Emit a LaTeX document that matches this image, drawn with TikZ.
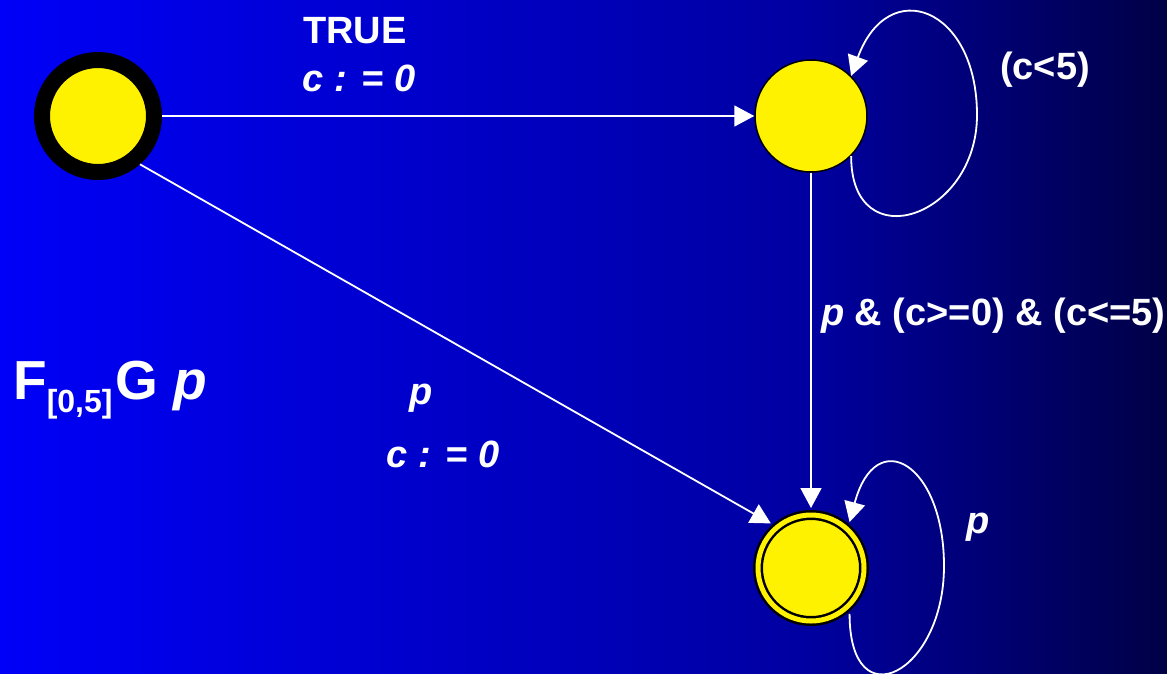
\documentclass[tikz,border=0pt]{standalone}
\usepackage{fontspec}
\setmainfont{Liberation Sans}
\usepackage{xcolor}
\usepackage{tikz}
\usetikzlibrary{arrows.meta, positioning, calc}

\definecolor{bgleft}{RGB}{0,0,248}
\definecolor{bgmid}{RGB}{0,0,160}
\definecolor{bgright}{RGB}{0,0,70}

\begin{document}
\begin{tikzpicture}[
        x=1pt, y=-1pt,
        state/.style={
            circle,
            draw=black,
            fill=yellow,
            line width=1.5pt,
            minimum size=112pt,
            inner sep=0pt
        },
        startstate/.style={
            state,
            line width=16pt
        },
        finalstate/.style={
            circle,
            draw=black,
            double=yellow,
            double distance=5pt,
            line width=2.5pt,
            fill=yellow,
            minimum size=106pt,
            inner sep=0pt,
            outer sep=7pt
        },
        line/.style={
            draw,
            white,
            line width=1.8pt,
            -{Triangle[length=20pt, width=21pt]}
        },
        guard/.style={
            text=white,
            inner sep=0pt,
            font=\bfseries\fontsize{38}{42}\selectfont
        },
        assign/.style={
            guard,
            font=\bfseries\itshape\fontsize{38}{42}\selectfont
        }
    ]
        % Background
        \shade [left color=bgleft, right color=bgmid] (0,0) rectangle (812,673);
        \shade [left color=bgmid, right color=bgright] (811,0) rectangle (1167,673);
        \useasboundingbox (0,0) rectangle (1167,673);

        % Nodes
        \node [startstate] (start) at (98,116) {};
        \node [state] (wait) at (811,116) {};
        \node [finalstate] (hold) at (811,568) {};
        \coordinate (waitloop) at (977,115);
        \coordinate (holdloop) at (944,566);

        % Edges
        \draw [line] (start) -- (wait);
        \draw [line] (start.-49) -- (hold.132);
        \draw [line] (wait) -- (hold);
        \draw [line] (wait.-45) to[out=-90, in=-90, looseness=2] (waitloop)
            to[out=90, in=70, looseness=2.1] (wait.45);
        \draw [line] (hold.-50) to[out=-90, in=-90, looseness=2.6] (holdloop)
            to[out=90, in=75, looseness=2.5] (hold.50);

        % Labels
        \node [guard, anchor=base] (truelbl) at (355,43) {TRUE};
        \node [assign, anchor=base] (reset1) at (359,91) {c : = 0};
        \node [guard, anchor=base] (inv) at (1045,79) {(c<5)};
        \node [guard, anchor=base west] (cond) at (821,325) {\textit{p} \& (c>=0) \& (c<=5)};
        \node [assign, anchor=base] (plbl) at (421,404) {p};
        \node [assign, anchor=base] (reset2) at (443,467) {c : = 0};
        \node [assign, anchor=base] (selfp) at (978,533) {p};

        % Annotation
        \node [guard, anchor=base west, font=\bfseries\fontsize{55}{60}\selectfont] (formula) at (13,399)
            {F{\fontsize{32}{34}\selectfont\raisebox{-13pt}{[0,5]}}\hspace{3pt}G \textit{p}};

    \end{tikzpicture}
\end{document}
